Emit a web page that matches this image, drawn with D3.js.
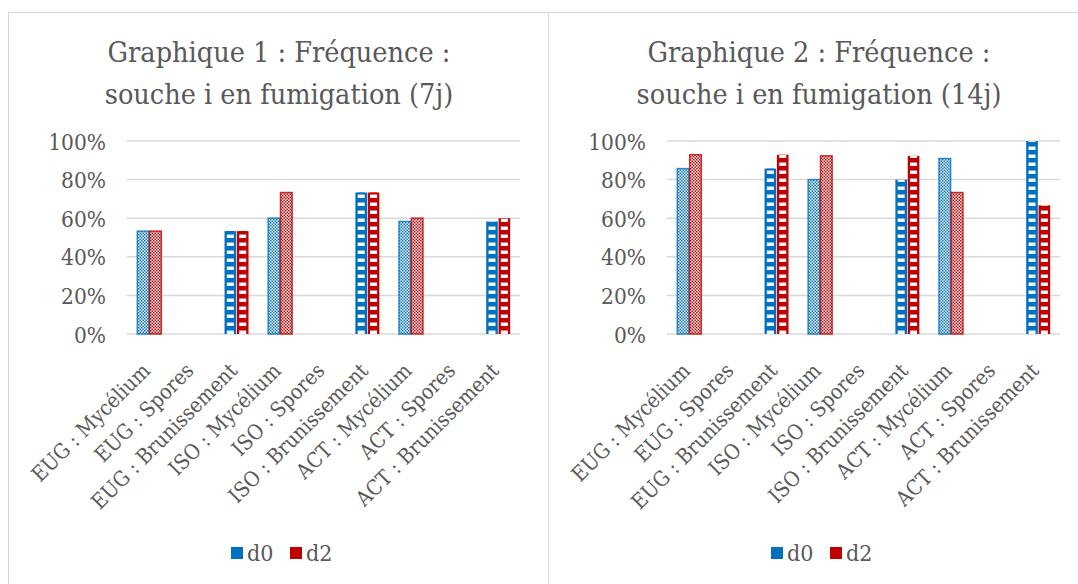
<!DOCTYPE html>
<html>
<head>
<meta charset="utf-8">
<script src="https://cdn.jsdelivr.net/npm/d3@7"></script>
<style>
  html, body { margin: 0; padding: 0; background: #fff; }
  svg { display: block; }
  text { font-family: "DejaVu Serif Condensed", "DejaVu Serif", serif; fill: #595959; }
</style>
</head>
<body>
<svg id="chart" width="1078" height="584"></svg>
<script>
// Categories shared by both panels
const categories = [
  "EUG : Mycélium", "EUG : Spores", "EUG : Brunissement",
  "ISO : Mycélium", "ISO : Spores", "ISO : Brunissement",
  "ACT : Mycélium", "ACT : Spores", "ACT : Brunissement"
];
const seriesNames = ["d0", "d2"];

// Graphique 1 (7 jours)
const freq7_d0 = [0.533, 0, 0.533, 0.600, 0, 0.733, 0.583, 0, 0.583];
const freq7_d2 = [0.533, 0, 0.533, 0.733, 0, 0.733, 0.600, 0, 0.600];

// Graphique 2 (14 jours)
const freq14_d0 = [0.857, 0, 0.857, 0.800, 0, 0.800, 0.909, 0, 1.000];
const freq14_d2 = [0.929, 0, 0.929, 0.923, 0, 0.923, 0.733, 0, 0.667];

const yTicks = [0, 0.2, 0.4, 0.6, 0.8, 1.0];
const yTickLabels = ["0%", "20%", "40%", "60%", "80%", "100%"];

const titles1 = ["Graphique 1 : Fréquence :", "souche i en fumigation (7j)"];
const titles2 = ["Graphique 2 : Fréquence :", "souche i en fumigation (14j)"];

const colors = { d0: "#0070C0", d2: "#C00000" };

const svg = d3.select("#chart");
const defs = svg.append("defs");

// Fill patterns: fine checker for Mycélium, white rungs for Brunissement
seriesNames.forEach(s => {
  const c = colors[s];
  const chk = defs.append("pattern")
    .attr("id", "checker-" + s)
    .attr("patternUnits", "userSpaceOnUse")
    .attr("width", 3).attr("height", 3);
  chk.append("rect").attr("width", 3).attr("height", 3).attr("fill", "#fff");
  chk.append("rect").attr("width", 1.5).attr("height", 1.5).attr("fill", c);
  chk.append("rect").attr("x", 1.5).attr("y", 1.5).attr("width", 1.5).attr("height", 1.5).attr("fill", c);

  const rung = defs.append("pattern")
    .attr("id", "rung-" + s)
    .attr("patternUnits", "userSpaceOnUse")
    .attr("width", 20).attr("height", 8);
  rung.append("rect").attr("width", 20).attr("height", 8).attr("fill", c);
  rung.append("rect").attr("y", 2.5).attr("width", 20).attr("height", 3.5).attr("fill", "#f4f6f8");
});

function drawPanel(ox, d0, d2, titleLines) {
  const g = svg.append("g").attr("transform", `translate(${ox},0)`);

  // Panel frame
  g.append("rect")
    .attr("x", 8.5).attr("y", 12.5)
    .attr("width", 540).attr("height", 620)
    .attr("fill", "#fff").attr("stroke", "#d9d9d9").attr("stroke-width", 1);

  // Title
  const title = g.append("text")
    .attr("x", 279).attr("text-anchor", "middle")
    .style("font-size", "28.5px");
  titleLines.forEach((t, i) => {
    title.append("tspan").attr("x", 279).attr("y", 62 + i * 42).text(t);
  });

  const x = d3.scaleBand().domain(categories).range([127.5, 520]).padding(0);
  const xs = d3.scaleBand().domain(seriesNames)
    .range([x.bandwidth() * 0.225, x.bandwidth() * 0.775]).paddingInner(0.06);
  const y = d3.scaleLinear().domain([0, 1]).range([334, 141]);

  // Gridlines
  g.append("g").selectAll("line").data(yTicks).join("line")
    .attr("x1", 127).attr("x2", 520)
    .attr("y1", d => y(d)).attr("y2", d => y(d))
    .attr("stroke", "#d9d9d9").attr("stroke-width", 1.5);

  // Y axis labels
  const yAxis = d3.axisLeft(y).tickValues(yTicks)
    .tickFormat((d, i) => yTickLabels[i]).tickSize(0).tickPadding(0);
  const ya = g.append("g").attr("transform", "translate(106,0)").call(yAxis);
  ya.select(".domain").remove();
  ya.selectAll("text").style("font-size", "22.5px").attr("fill", "#595959")
    .attr("font-family", null).attr("dy", "0.36em");

  // Bars
  const rows = [];
  categories.forEach((c, i) => {
    rows.push({ cat: c, s: "d0", v: d0[i] });
    rows.push({ cat: c, s: "d2", v: d2[i] });
  });
  const bars = g.append("g").selectAll("g").data(rows.filter(r => r.v > 0)).join("g");
  bars.each(function (r) {
    const bx = x(r.cat) + xs(r.s), bw = xs.bandwidth();
    const top = y(r.v), h = y(0) - y(r.v);
    const sel = d3.select(this);
    if (r.cat.includes("Mycélium")) {
      sel.append("rect")
        .attr("x", bx).attr("y", top).attr("width", bw).attr("height", h)
        .attr("fill", `url(#checker-${r.s})`)
        .attr("stroke", colors[r.s]).attr("stroke-opacity", 0.8).attr("stroke-width", 1.5);
    } else {
      sel.append("rect")
        .attr("x", bx).attr("y", top).attr("width", bw).attr("height", h)
        .attr("fill", colors[r.s]);
      sel.append("rect")
        .attr("x", bx + 2.3).attr("y", top).attr("width", bw - 4.6).attr("height", h)
        .attr("fill", `url(#rung-${r.s})`);
    }
  });

  // X axis labels, rotated
  const xa = g.append("g").attr("transform", "translate(0,334)")
    .call(d3.axisBottom(x).tickSize(0).tickPadding(0));
  xa.select(".domain").remove();
  xa.selectAll("text")
    .attr("font-family", null).attr("fill", "#595959")
    .style("font-size", "21px")
    .attr("text-anchor", "end")
    .attr("dy", null).attr("y", 0)
    .attr("transform", "translate(2,38) rotate(-45)");

  // Legend
  const lg = g.append("g").attr("transform", "translate(231,547)");
  seriesNames.forEach((s, i) => {
    const item = lg.append("g").attr("transform", `translate(${i * 59},0)`);
    item.append("rect").attr("width", 12).attr("height", 12).attr("fill", colors[s]);
    item.append("text").attr("x", 16).attr("y", 13.5).style("font-size", "23px").text(s);
  });
}

drawPanel(0, freq7_d0, freq7_d2, titles1);
drawPanel(540, freq14_d0, freq14_d2, titles2);
</script>
</body>
</html>
